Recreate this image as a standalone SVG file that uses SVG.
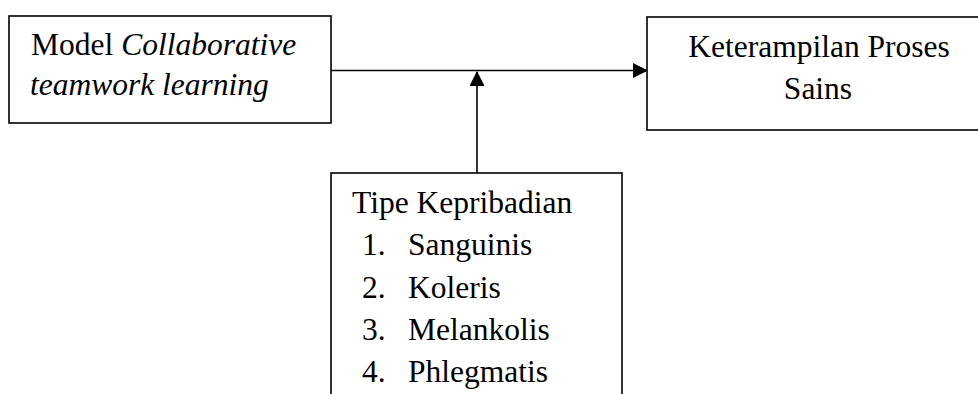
<svg xmlns="http://www.w3.org/2000/svg" width="978" height="394" viewBox="0 0 978 394">
<style>
.box{fill:#fff;stroke:#000;stroke-width:1.6}
.t{font-family:"Liberation Serif","Times New Roman",serif;font-size:31.5px;fill:#000}
.i{font-style:italic}
.ln{stroke:#000;stroke-width:1.6;fill:none}
</style>
<defs>
<marker id="ah" markerWidth="15" markerHeight="15" refX="14" refY="7.5" orient="auto" markerUnits="userSpaceOnUse">
<path d="M0,0 L15,7.5 L0,15 Z" fill="#000"/>
</marker>
</defs>
<rect width="978" height="394" fill="#fff"/>
<g id="connectors">
<line class="ln" x1="331" y1="70.5" x2="647" y2="70.5" marker-end="url(#ah)"/>
<line class="ln" x1="477" y1="173" x2="477" y2="72" marker-end="url(#ah)"/>
</g>
<g id="model">
<rect class="box" x="9" y="16" width="322" height="107"/>
<text class="t" x="31" y="55">Model <tspan class="i">Collaborative</tspan></text>
<text class="t i" x="30" y="95">teamwork learning</text>
</g>
<g id="kps">
<rect class="box" x="647" y="17" width="340" height="113"/>
<text class="t" x="819" y="57" text-anchor="middle">Keterampilan Proses</text>
<text class="t" x="818" y="99" text-anchor="middle">Sains</text>
</g>
<g id="tipe">
<rect class="box" x="331" y="173" width="291" height="240"/>
<text class="t" x="352" y="213">Tipe Kepribadian</text>
<text class="t" x="362" y="255">1.</text><text class="t" x="408" y="255">Sanguinis</text>
<text class="t" x="362" y="298">2.</text><text class="t" x="408" y="298">Koleris</text>
<text class="t" x="362" y="340">3.</text><text class="t" x="408" y="340">Melankolis</text>
<text class="t" x="362" y="382">4.</text><text class="t" x="408" y="382">Phlegmatis</text>
</g>
</svg>
